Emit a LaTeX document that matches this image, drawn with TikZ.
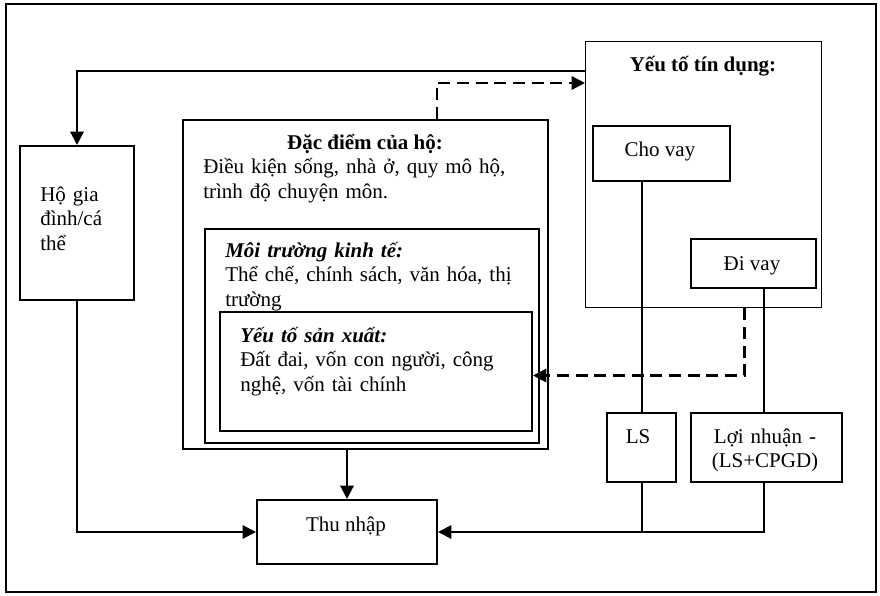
\documentclass[tikz,border=0pt]{standalone}
\usepackage{fontspec}
\setmainfont{Liberation Serif}
\usetikzlibrary{arrows.meta,calc}
\tikzset{
  box/.style={draw, line width=1.5pt, anchor=north west, inner sep=0pt},
  txt/.style={align=left, anchor=base west, inner sep=0pt},
  ctxt/.style={align=center, anchor=base, inner sep=0pt},
  link/.style={line width=1.5pt},
  arr/.style={link, -{Triangle[length=10pt,width=10pt]}},
  dash line/.style={line width=1.7pt, dash pattern=on 9pt off 5pt},
}
\begin{document}
\begin{tikzpicture}[x=0.75pt, y=-0.75pt, font=\fontsize{15.75}{18.4}\selectfont]
  % frame, origin top left
  \useasboundingbox (0,0) rectangle (880,595);
  \draw[line width=2pt] (6,4) rectangle (876,592);

  % boxes
  \node[box, minimum width=85.5pt, minimum height=115.5pt] (ho) at (19,145) {};
  \node[box, minimum width=273.75pt, minimum height=246.75pt] (dacdiem) at (182,119) {};
  \node[box, minimum width=250.5pt, minimum height=160.5pt] (moitruong) at (204,228) {};
  \node[box, line width=1.1pt, minimum width=177pt, minimum height=199.5pt] (credit) at (585,41) {};
  \node[box, minimum width=102.75pt, minimum height=41.25pt] (chovay) at (592,125) {};
  \node[box, minimum width=93.75pt, minimum height=36.75pt] (divay) at (690,238) {};
  \node[box, minimum width=51.75pt, minimum height=51.75pt] (ls) at (606,412) {};
  \node[box, minimum width=113.25pt, minimum height=51.75pt] (loi) at (690,412) {};
  \node[box, minimum width=135pt, minimum height=48pt] (thu) at (256,499) {};

  % texts
  \node[txt, text width=70pt] (hotxt) at (40,201) {Hộ gia\\ đình/cá\\ thể};
  \node[ctxt] (ddtitle) at (365,150) {\bfseries Đặc điểm của hộ:};
  \node[txt, text width=260pt] (ddtxt) at (203,174) {Điều kiện sống, nhà ở, quy mô hộ,\\ trình độ chuyện môn.};
  \node[txt, text width=240pt] (mttxt) at (225,257) {{\bfseries\itshape Môi trường kinh tế:}\\ Thể chế, chính sách, văn hóa, thị\\ trường};
  \node[box, fill=white, minimum width=234pt, minimum height=89.25pt] (sanxuat) at (219,311) {};
  \node[txt, text width=220pt] (sxtxt) at (240,342) {{\bfseries\itshape Yếu tố sản xuất:}\\ Đất đai, vốn con người, công\\ nghệ, vốn tài chính};
  \node[ctxt] (credtxt) at (703,72) {\bfseries Yếu tố tín dụng:};
  \node[ctxt] (chotxt) at (660,157) {Cho vay};
  \node[ctxt] (ditxt) at (752,270) {Đi vay};
  \node[ctxt] (lstxt) at (638,443) {LS};
  \node[ctxt, text width=105pt] (loitxt) at (765,443) {Lợi nhuận -\\ (LS+CPGD)};
  \node[ctxt] (thutxt) at (346,531) {Thu nhập};

  % connectors
  \draw[arr] (credit.north west) ++(0,30) -| (ho.north);
  \draw[dash line, -{Triangle[length=10pt,width=10pt]}] ($(dacdiem.north east)+(-112,0)$) |- ($(credit.north west)+(0,42)$);
  \draw[link] (ls.north |- chovay.south) -- (ls.north);
  \draw[link] ($(divay.south)+(10,0)$) -- ($(loi.north)+(-3,0)$);
  \draw[dash line, -{Triangle[length=10pt,width=10pt]}] ($(credit.south east)+(-78,0)$) |- ($(sanxuat.east)+(0,4)$);
  \draw[arr] (thu.north |- dacdiem.south) -- (thu.north);
  \draw[arr] (ho.south) |- (thu.west);
  \draw[arr] ($(loi.south)+(-3,0)$) |- (thu.east);
  \draw[link] (ls.south) -- (ls.south |- thu.east);
\end{tikzpicture}
\end{document}
